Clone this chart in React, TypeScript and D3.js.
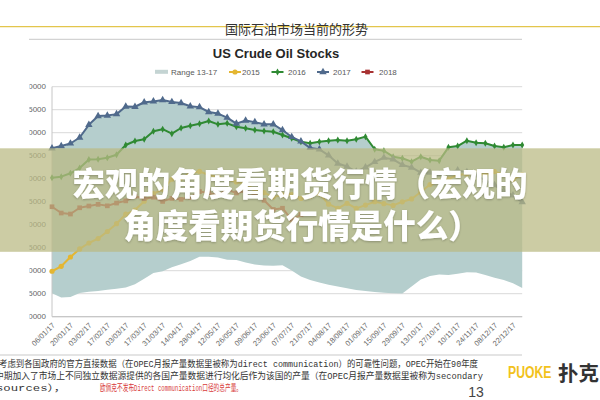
import React from 'react';
import * as d3 from 'd3';

// ---------- data (thousand barrels) ----------
const tickLabels = [
  '06/01/17', '20/01/17', '03/02/17', '17/02/17', '03/03/17', '17/03/17', '31/03/17',
  '14/04/17', '28/04/17', '12/05/17', '26/05/17', '09/06/17', '23/06/17', '07/07/17',
  '21/07/17', '04/08/17', '18/08/17', '01/09/17', '15/09/17', '29/09/17', '13/10/17',
  '27/10/17', '10/11/17', '24/11/17', '08/12/17', '22/12/17',
];

const yTicks = [300000, 325000, 350000, 375000, 400000, 425000, 450000, 475000, 500000, 525000, 550000];

const rangeLow = [
  325400, 320900, 321400, 325800, 327200, 327900, 329300, 330400, 331700, 335200, 341200, 347500, 349300,
  353700, 357000, 360500, 365200, 365200, 364300, 361800, 361600, 358900, 356700, 355600, 355400, 355900,
  350200, 343700, 339900, 337200, 334800, 332800, 330900, 329000, 327900, 326800, 326100, 325400, 325200,
  332800, 340400, 344200, 345900, 345300, 346700, 348400, 348000, 345300, 342400, 339900, 336300, 331100,
];

const rangeHigh = [
  483100, 485500, 488300, 494800, 508600, 518100, 518700, 520200, 528400, 528200, 533100, 534000, 535500,
  533400, 532300, 528700, 527800, 522500, 520800, 516300, 509900, 513200, 511500, 509100, 509200, 502900,
  495400, 490600, 488500, 490200, 491300, 492100, 491300, 492900, 495700, 482000, 480400, 473900, 472200,
  468500, 473900, 470300, 469600, 484100, 485500, 491300, 489100, 488500, 485500, 484100, 486600, 486600,
];

const s2015 = [
  349400, 354800, 364900, 373700, 380100, 384900, 392600, 401100, 411400, 415900, 425500, 433700, 438400,
  449400, 450700, 456000, 457900, 454000, 451800, 449200, 446400, 444600, 437600, 434800, 430000, 432400,
  432800, 428500, 430800, 433600, 422300, 417800, 423200, 417700, 421300, 425000, 422900, 421000, 424900,
  428000, 435600, 443600, 447000, 449800, 454000, 455200, 456000, 454300, 457700, 454500, 449100, 454400,
];

const s2016 = [
  451100, 452200, 455900, 461600, 470900, 471100, 472700, 476100, 486600, 491000, 492800, 501500, 503800,
  498900, 505100, 507500, 509800, 512700, 509100, 510200, 506500, 504800, 502900, 501800, 501100, 497500,
  493900, 490200, 488500, 490200, 491300, 492100, 491300, 492900, 495700, 482000, 480400, 473900, 472200,
  468500, 473900, 470300, 469600, 484100, 485500, 491300, 489100, 488500, 485500, 484100, 486600, 486600,
];

const s2017 = [
  483100, 485500, 488300, 494800, 508600, 518100, 518700, 520200, 528400, 528200, 533100, 534000, 535500,
  533400, 532300, 528700, 527800, 522500, 520800, 516300, 509900, 513200, 511500, 509100, 509200, 502900,
  495400, 490600, 483400, 481900, 475400, 466500, 463200, 457800, 462400, 468200, 472800, 471000, 465000,
  462200, 456500, 456700, 454900, 457100, 459000, 457100, 453700, 448100, 443000, 436500, 431900, 424500,
];

const s2018 = [
  419500, 412700, 411600, 418400, 420300, 422100, 420500, 423500, 425900, 430900, 428300, 429900, 425300,
  428600, 427600, 429800, 436000, 434600, 432400, 438100, 434500, 436600, 432400, 426500, 416600, 417900,
  405200, 411100,
];

const legendNames = ['Range 13-17', '2015', '2016', '2017', '2018'];

const bannerLine1 = '宏观的角度看期货行情（宏观的';
const bannerLine2 = '角度看期货行情是什么）';
const footLine1 = '考虑到各国政府的官方直接数据（在OPEC月报产量数据里被称为direct communication）的可靠性问题，OPEC开始在90年度';
const footLine2 = '中期加入了市场上不同独立数据源提供的各国产量数据进行均化后作为该国的产量（在OPEC月报产量数据里被称为secondary';
const footLine3a = 'sources），';
const footLine3b = '欧佩克不发布Direct communication口径的总产量。';

const C = {
  range: '#b5cecd',
  rangeLegend: '#c4d4d3',
  y2015: '#e4b632',
  y2016: '#2f8a33',
  y2017: '#506a8c',
  y2018: '#a83232',
  grid: '#d9d9d9',
};

export default function App() {
  const x = d3.scaleLinear().domain([0, 51]).range([52, 522.2]);
  const y = d3.scaleLinear().domain([300000, 550000]).range([316.7, 86.7]);
  const idx = d3.range(rangeLow.length);

  const area = d3
    .area<number>()
    .x((i) => x(i))
    .y0((i) => y(rangeLow[i]))
    .y1((i) => y(rangeHigh[i]))
    .curve(d3.curveLinear)(idx) as string;

  const line = (arr: number[]) =>
    d3
      .line<number>()
      .x((_, i) => x(i))
      .y((d) => y(d))(arr) as string;

  const tri = d3.symbol().type(d3.symbolTriangle).size(24)() as string;
  const dia = d3.symbol().type(d3.symbolDiamond).size(14)() as string;
  const sq = d3.symbol().type(d3.symbolSquare).size(22)() as string;

  const tickFont = 'Liberation Sans, Arial, sans-serif';
  const cjk = '"Noto Sans CJK SC", sans-serif';

  const series = [
    { data: s2015, color: C.y2015, marker: 'circle' },
    { data: s2016, color: C.y2016, marker: dia },
    { data: s2017, color: C.y2017, marker: tri },
    { data: s2018, color: C.y2018, marker: sq },
  ];

  const mk = (m: string, color: string, cx: number, cy: number, key: any) =>
    m === 'circle' ? (
      <circle key={key} cx={cx} cy={cy} r={2.6} fill={color} />
    ) : (
      <path key={key} d={m} transform={`translate(${cx},${cy})`} fill={color} />
    );

  const legendItems = [
    { x: 229, tx: 242, color: C.y2015, marker: 'circle' },
    { x: 271.5, tx: 288, color: C.y2016, marker: dia },
    { x: 317, tx: 333, color: C.y2017, marker: tri },
    { x: 361.5, tx: 379, color: C.y2018, marker: sq },
  ];

  return (
    <svg
      width={600}
      height={400}
      style={{ position: 'fixed', left: 0, top: 0, background: '#fff' }}
      xmlns="http://www.w3.org/2000/svg"
    >
      <defs>
        <clipPath id="leftcut">
          <rect x={29.5} y={0} width={600} height={400} />
        </clipPath>
        <filter id="shadow" x="-5%" y="-20%" width="110%" height="140%">
          <feDropShadow dx="0" dy="1" stdDeviation="1.2" floodColor="#000" floodOpacity="0.25" />
        </filter>
      </defs>
      <rect x={0} y={0} width={600} height={400} fill="#fff" />

      {/* header */}
      <line x1={0} x2={600} y1={26.7} y2={26.7} stroke="#e3c54c" strokeWidth={1.2} />
      <text x={296.5} y={28} textAnchor="middle" dominantBaseline="central" fontFamily={cjk} fontSize={13} fill="#333">
        国际石油市场当前的形势
      </text>
      <line x1={29} x2={522} y1={39.3} y2={39.3} stroke="#c9c9c9" strokeWidth={1} />

      {/* chart title */}
      <text x={276} y={53} textAnchor="middle" dominantBaseline="central" fontFamily={tickFont} fontWeight="bold" fontSize={13} fill="#262626">
        US Crude Oil Stocks
      </text>

      {/* legend */}
      <rect x={155} y={69.8} width={13} height={4} fill={C.rangeLegend} />
      <text x={171} y={72} dominantBaseline="central" fontFamily={tickFont} fontSize={8} fill="#595959">
        {legendNames[0]}
      </text>
      {legendItems.map((it, k) => (
        <g key={k}>
          <line x1={it.x} x2={it.x + 12} y1={72} y2={72} stroke={it.color} strokeWidth={2} />
          {mk(it.marker, it.color, it.x + 6, 72, 'm')}
          <text x={it.tx} y={72} dominantBaseline="central" fontFamily={tickFont} fontSize={8} fill="#595959">
            {legendNames[k + 1]}
          </text>
        </g>
      ))}

      {/* gridlines */}
      {yTicks.map((t) => (
        <line key={t} x1={52} x2={522.2} y1={y(t)} y2={y(t)} stroke={t === 300000 ? '#c6c6c6' : C.grid} strokeWidth={1} />
      ))}

      {/* range band */}
      <path d={area} fill={C.range} />

      {/* axes */}
      <line x1={52} x2={52} y1={y(550000)} y2={y(300000)} stroke="#c6c6c6" strokeWidth={1} />
      <line x1={52} x2={522.2} y1={y(300000)} y2={y(300000)} stroke="#c6c6c6" strokeWidth={1} />

      {/* y and x labels */}
      <g clipPath="url(#leftcut)">
        {yTicks.map((t) => (
          <text key={t} x={46} y={y(t)} textAnchor="end" dominantBaseline="central" fontFamily={tickFont} fontSize={8} fill="#666">
            {d3.format('d')(t)}
          </text>
        ))}
        {tickLabels.map((lab, k) => (
          <text
            key={lab}
            transform={`translate(${x(k * 2) + 1.5},${324}) rotate(-45)`}
            textAnchor="end"
            dy="0.35em"
            fontFamily={tickFont}
            fontSize={7.5}
            fill="#666"
          >
            {lab}
          </text>
        ))}
      </g>

      {/* series */}
      {series.map((s, k) => (
        <g key={k}>
          <path d={line(s.data)} fill="none" stroke={s.color} strokeWidth={2} strokeLinejoin="round" />
          {s.data.map((v, i) => mk(s.marker, s.color, x(i), y(v), i))}
        </g>
      ))}

      {/* overlay banner */}
      <rect x={0} y={148.3} width={600} height={103.5} fill="rgb(186,186,132)" fillOpacity={0.74} />
      <g filter="url(#shadow)">
        <text textAnchor="middle" dominantBaseline="central" fontFamily={cjk} fontWeight={900} fontSize={32.5} fill="#fff">
          <tspan x={300} y={181}>{bannerLine1}</tspan>
          <tspan x={302} y={222.5}>{bannerLine2}</tspan>
        </text>
      </g>

      {/* footer */}
      <line x1={0} x2={522} y1={355} y2={355} stroke="#c9c9c9" strokeWidth={1} />
      <g fontFamily={'"Liberation Mono", "Noto Sans CJK SC", monospace'} fontSize={9}>
        <text x={-1} y={365} dominantBaseline="central" fill="#333" textLength={479} lengthAdjust="spacingAndGlyphs">
          {footLine1}
        </text>
        <text x={-5} y={377.3} dominantBaseline="central" fill="#333" textLength={488} lengthAdjust="spacingAndGlyphs">
          {footLine2}
        </text>
        <text x={-4} y={389.3} dominantBaseline="central" fill="#333" textLength={70} lengthAdjust="spacingAndGlyphs">
          {footLine3a}
        </text>
        <text x={100} y={389.3} dominantBaseline="central" fill="#d83a3a" textLength={142} lengthAdjust="spacingAndGlyphs">
          {footLine3b}
        </text>
      </g>
      <text x={476} y={397} textAnchor="middle" fontFamily={tickFont} fontSize={14} fill="#444">
        13
      </text>
      <text
        transform="translate(508,372) scale(0.72,1)"
        dominantBaseline="central"
        fontFamily={tickFont}
        fontWeight="bold"
        fontSize={17}
        fill="#f2c21c"
      >
        PUOKE
      </text>
      <text x={558} y={372} dominantBaseline="central" fontFamily={cjk} fontWeight={700} fontSize={20.5} fill="#333">
        扑克
      </text>
    </svg>
  );
}
